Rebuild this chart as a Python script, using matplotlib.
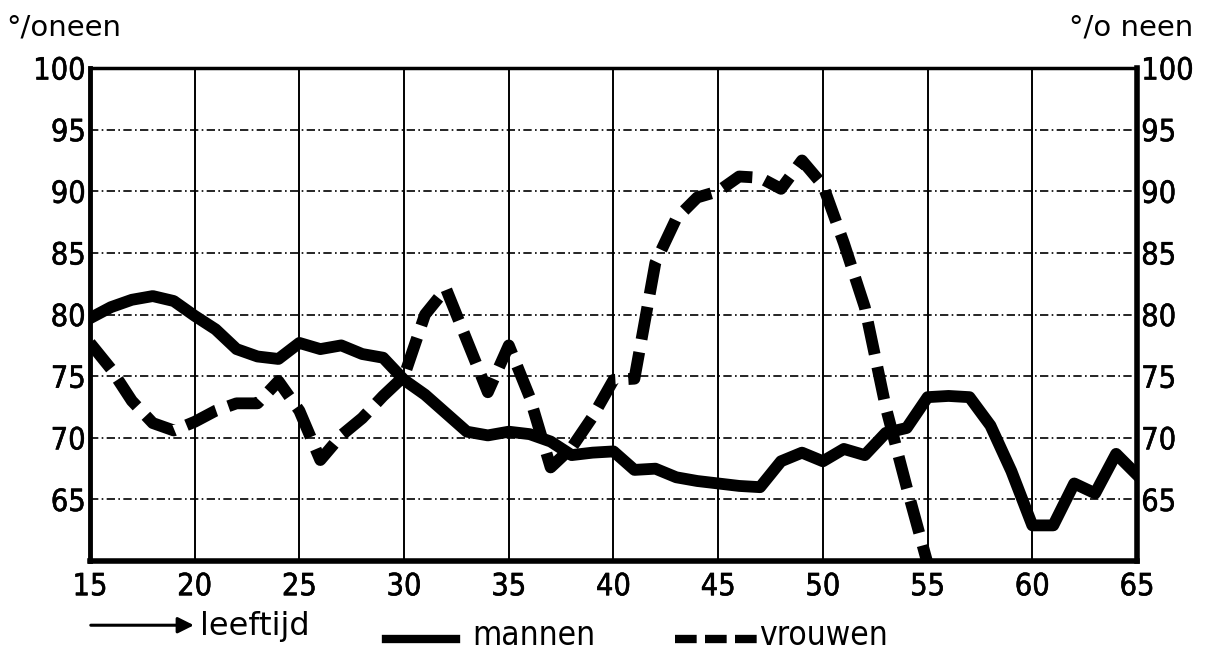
import matplotlib
matplotlib.use("Agg")
import matplotlib.pyplot as plt
import matplotlib.patheffects as pe
from matplotlib.lines import Line2D

plt.rcParams['font.family'] = ['DejaVu Sans']

ages = list(range(15, 66))
mannen = [79.7, 80.6, 81.2, 81.5, 81.1, 79.9, 78.8, 77.2, 76.6, 76.4,
          77.7, 77.2, 77.5, 76.8, 76.5, 74.7, 73.5, 72.0, 70.5, 70.2,
          70.5, 70.3, 69.7, 68.6, 68.8, 68.9, 67.4, 67.5, 66.8, 66.5,
          66.3, 66.1, 66.0, 68.1, 68.8, 68.1, 69.1, 68.6, 70.4, 70.8,
          73.3, 73.4, 73.3, 71.0, 67.3, 62.9, 62.9, 66.3, 65.5, 68.7,
          67.0]
ages_v = list(range(15, 56))
vrouwen = [77.7, 75.6, 73.0, 71.2, 70.6, 71.3, 72.2, 72.8, 72.8, 74.6,
           72.2, 68.2, 70.2, 71.6, 73.4, 75.0, 80.0, 82.1, 77.9, 73.7,
           77.5, 73.3, 67.6, 69.2, 71.7, 74.7, 74.8, 84.2, 87.8, 89.5,
           90.0, 91.2, 91.1, 90.2, 92.5, 90.5, 85.8, 80.6, 72.5, 66.0,
           59.8]
xticks = list(range(15, 70, 5))
yticks = list(range(65, 105, 5))

fig = plt.figure(figsize=(12.14, 6.54), dpi=100)
ax = fig.add_axes([0.0741, 0.142, 0.8625, 0.754])

ax.plot(ages, mannen, color='black', lw=8.5, solid_joinstyle='round', zorder=3)
ax.plot(ages_v, vrouwen, color='black', lw=8.5, dashes=(2.8, 1.1), zorder=3)

ax.set_xlim(15, 65)
ax.set_ylim(60, 100)
ax.set_xticks(xticks)
ax.set_yticks(yticks)
for x in xticks[1:-1]:
    ax.axvline(x, color='black', lw=1.4, zorder=1)
for y in yticks[:-1]:
    ax.axhline(y, color='black', lw=1.2, dashes=(5, 2, 1, 2), zorder=1)

ax.spines['top'].set_linewidth(2.5)
ax.spines['left'].set_linewidth(3.5)
ax.spines['bottom'].set_linewidth(4)
ax.spines['right'].set_linewidth(4)
ax.tick_params(length=0, labelsize=22, labelright=True)
ax.tick_params(axis='y', pad=3)
ax.tick_params(axis='x', pad=8)
thick = [pe.withStroke(linewidth=0.4, foreground='black')]
labels = [t.label1 for t in ax.xaxis.get_major_ticks()]
labels += [t.label1 for t in ax.yaxis.get_major_ticks()]
labels += [t.label2 for t in ax.yaxis.get_major_ticks()]
for lab in labels:
    lab.set_fontstretch('condensed')
    lab.set_path_effects(thick)

fig.text(0.005, 0.946, '°/oneen', fontsize=21)
fig.text(0.983, 0.946, '°/o neen', fontsize=21, ha='right')

# legend row
ax.annotate('', xy=(0.162, 0.044), xytext=(0.0725, 0.044), xycoords='figure fraction',
            arrowprops=dict(arrowstyle='-|>', color='black', lw=2.2, mutation_scale=24))
fig.text(0.165, 0.029, 'leeftijd', fontsize=23)
fig.add_artist(Line2D([0.318, 0.376], [0.023, 0.023], color='black', lw=6,
                      transform=fig.transFigure))
fig.text(0.389, 0.014, 'mannen', fontsize=24, fontstretch='condensed')
fig.add_artist(Line2D([0.556, 0.624], [0.023, 0.023], color='black', lw=6,
                      dashes=(2.6, 1.0), transform=fig.transFigure))
fig.text(0.625, 0.014, 'vrouwen', fontsize=24, fontstretch='condensed')

fig.savefig('out.png', dpi=100)
